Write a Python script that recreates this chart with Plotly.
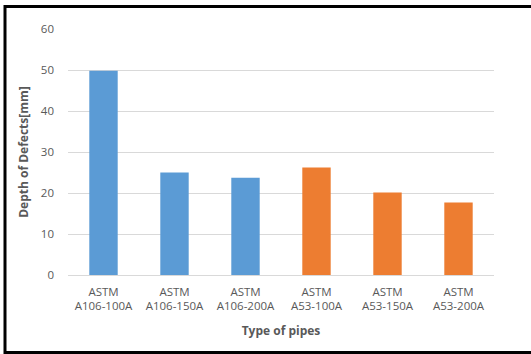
import plotly.graph_objects as go

# Pipe types and measured defect depths
categories = ["ASTM<br>A106-100A", "ASTM<br>A106-150A", "ASTM<br>A106-200A",
              "ASTM<br>A53-100A", "ASTM<br>A53-150A", "ASTM<br>A53-200A"]
depths = [49.8, 25.0, 23.7, 26.2, 20.1, 17.7]
bar_colors = ["#5B9BD5", "#5B9BD5", "#5B9BD5", "#ED7D31", "#ED7D31", "#ED7D31"]
y_ticks = [0, 10, 20, 30, 40, 50, 60]

W, H = 531, 354
L, R, T, B = 68, 37, 29, 79
pw, ph = W - L - R, H - T - B

font_family = "Open Sans, Noto Sans, sans-serif"
tick_color = "#595959"

fig = go.Figure(go.Bar(
    x=categories, y=depths, marker=dict(color=bar_colors, line=dict(width=0)),
    hoverinfo="skip",
))

# outer black frame, in pixel terms converted to paper units
def px_x(p):
    return (p - L) / pw

def px_y(p):
    return (H - B - p) / ph

fig.add_shape(type="rect", xref="paper", yref="paper",
              x0=px_x(5), x1=px_x(536), y0=px_y(352.5), y1=px_y(6.5),
              line=dict(color="black", width=3), fillcolor="rgba(0,0,0,0)",
              layer="above")

fig.update_layout(
    width=W, height=H,
    margin=dict(l=L, r=R, t=T, b=B, pad=0),
    paper_bgcolor="white", plot_bgcolor="white",
    bargap=0.6, showlegend=False,
    font=dict(family=font_family, size=12, color=tick_color),
    xaxis=dict(
        showgrid=False, showline=False, ticks="", zeroline=False,
        ticklabelstandoff=8,
        tickfont=dict(size=11.5, color=tick_color),
        title=dict(text="<b>Type of pipes</b>", font=dict(size=12, color=tick_color), standoff=14),
    ),
    yaxis=dict(
        range=[0, 60], tickvals=y_ticks, showgrid=True, gridcolor="#D9D9D9", gridwidth=1,
        zeroline=True, zerolinecolor="#D9D9D9", zerolinewidth=1, showline=False,
        ticks="", ticklabelstandoff=13,
        tickfont=dict(size=11.5, color=tick_color),
        title=dict(text="<b>Depth of Defects[mm]</b>", font=dict(size=12, color=tick_color), standoff=9),
    ),
)

fig.write_html("out.html")
